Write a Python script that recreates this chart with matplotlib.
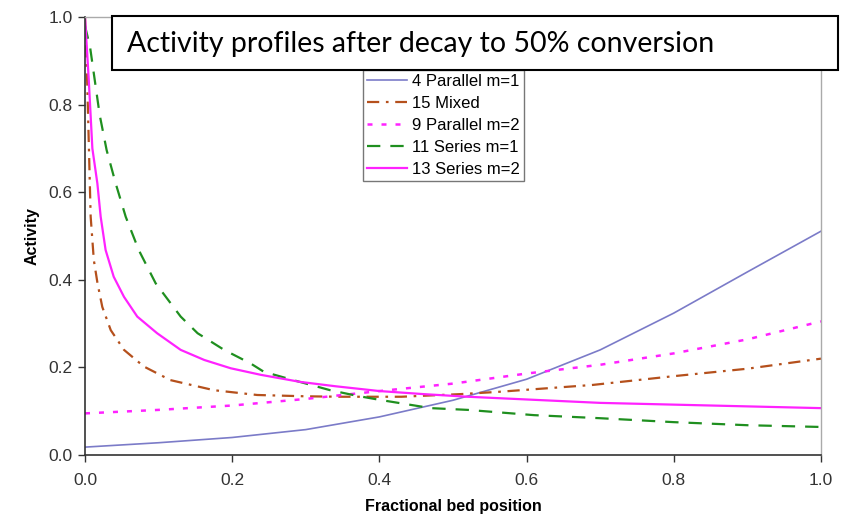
import numpy as np
import matplotlib.pyplot as plt
from matplotlib.patches import Rectangle

# 4 Parallel m=1
x_par1 = [0.0, 0.1, 0.2, 0.3, 0.4, 0.5, 0.6, 0.7, 0.8, 0.9, 1.0]
y_par1 = [0.018, 0.028, 0.040, 0.058, 0.087, 0.125, 0.173, 0.240, 0.324, 0.418, 0.511]

# 15 Mixed
x_mix = [0.0, 0.003, 0.0054, 0.0077, 0.012, 0.017, 0.0235, 0.035, 0.053, 0.080, 0.116,
         0.175, 0.234, 0.30, 0.35, 0.43, 0.51, 0.56, 0.69, 0.80, 0.90, 1.0]
y_mix = [1.0, 0.85, 0.696, 0.544, 0.445, 0.392, 0.338, 0.285, 0.240, 0.202, 0.171,
         0.148, 0.137, 0.134, 0.133, 0.133, 0.139, 0.144, 0.160, 0.180, 0.197, 0.220]

# 9 Parallel m=2
x_par2 = [0.0, 0.1, 0.2, 0.3, 0.4, 0.5, 0.6, 0.7, 0.8, 0.9, 1.0]
y_par2 = [0.095, 0.103, 0.113, 0.128, 0.146, 0.163, 0.186, 0.206, 0.232, 0.264, 0.305]

# 11 Series m=1
x_ser1 = [0.0, 0.007, 0.02, 0.0294, 0.0417, 0.0553, 0.073, 0.096, 0.130, 0.153, 0.189,
          0.225, 0.243, 0.283, 0.333, 0.37, 0.40, 0.47, 0.52, 0.61, 0.70, 0.80, 0.90, 1.0]
y_ser1 = [0.98, 0.93, 0.776, 0.696, 0.620, 0.544, 0.468, 0.392, 0.316, 0.278, 0.240,
          0.209, 0.190, 0.171, 0.148, 0.135, 0.126, 0.107, 0.103, 0.091, 0.084, 0.075,
          0.068, 0.064]

# 13 Series m=2
x_ser2 = [0.0, 0.005, 0.010, 0.0168, 0.0213, 0.028, 0.039, 0.053, 0.071, 0.098, 0.130,
          0.162, 0.198, 0.239, 0.292, 0.34, 0.40, 0.46, 0.52, 0.61, 0.70, 0.80, 0.90, 1.0]
y_ser2 = [1.0, 0.86, 0.70, 0.62, 0.544, 0.468, 0.407, 0.361, 0.316, 0.278, 0.240,
          0.217, 0.198, 0.183, 0.167, 0.157, 0.146, 0.139, 0.133, 0.126, 0.119, 0.115,
          0.111, 0.107]

ticks = [0.0, 0.2, 0.4, 0.6, 0.8, 1.0]

plt.rcParams['font.family'] = ['Liberation Sans', 'DejaVu Sans']

fig = plt.figure(figsize=(8.48, 5.17), dpi=100)
ax = fig.add_axes([85 / 848, 62 / 517, 736 / 848, 438 / 517])

ax.plot(x_par1, y_par1, color='#7b7bc8', lw=1.2, label='4 Parallel m=1')
ax.plot(x_mix, y_mix, color='#b5501c', lw=1.6, dashes=(5.5, 3, 1.2, 3), label='15 Mixed')
ax.plot(x_par2, y_par2, color='#ff22ff', lw=1.8, dashes=(2, 3.6), label='9 Parallel m=2')
ax.plot(x_ser1, y_ser1, color='#1f8f1f', lw=1.6, dashes=(6, 4.5), label='11 Series m=1')
ax.plot(x_ser2, y_ser2, color='#ff22ff', lw=1.6, label='13 Series m=2')

ax.set_xlim(0, 1)
ax.set_ylim(0, 1)
ax.set_xticks(ticks)
ax.set_yticks(ticks)
ax.set_xticklabels(['%.1f' % t for t in ticks])
ax.set_yticklabels(['%.1f' % t for t in ticks])
ax.tick_params(direction='out', length=5, width=1, colors='#333333', labelsize=12.5)
ax.tick_params(axis='y', pad=4)
ax.tick_params(axis='x', pad=8)

for s in ['left', 'bottom']:
    ax.spines[s].set_color('#333333')
    ax.spines[s].set_linewidth(1.2)
for s in ['top', 'right']:
    ax.spines[s].set_color('#aaaaaa')
    ax.spines[s].set_linewidth(1.0)

ax.set_xlabel('Fractional bed position', fontsize=11.5, fontweight='bold')
ax.set_ylabel('Activity', fontsize=11.5, fontweight='bold')
ax.xaxis.set_label_coords(0.5, (455 - 499) / 438)
ax.yaxis.set_label_coords((40 - 85) / 736, 0.5)

leg = ax.legend(loc='upper left', bbox_to_anchor=((363 - 85) / 736, (455 - 70) / 438),
                fontsize=12, frameon=True, fancybox=False, handlelength=2.4,
                handletextpad=0.3, labelspacing=0.42, borderpad=0.25, borderaxespad=0)
leg.get_frame().set_edgecolor('#555555')
leg.get_frame().set_linewidth(1.0)

# title box
fig.patches.append(Rectangle((112 / 848, 1 - 70 / 517), (838 - 112) / 848, 54 / 517,
                             transform=fig.transFigure, facecolor='white',
                             edgecolor='black', lw=1.5, zorder=5))
fig.text(127 / 848, 1 - 44 / 517, 'Activity profiles after decay to 50% conversion',
         fontsize=20.5, family=['Lato', 'DejaVu Sans'], va='center', ha='left', zorder=6)

fig.savefig('out.png', dpi=100)
